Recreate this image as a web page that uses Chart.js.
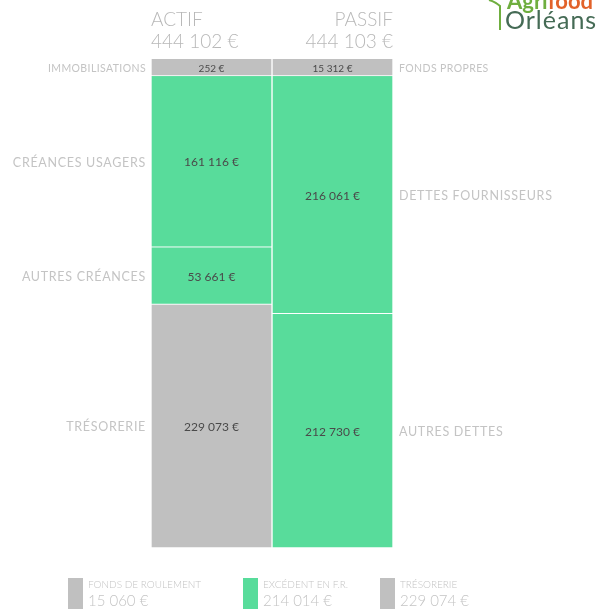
<!DOCTYPE html>
<html>
<head>
<meta charset="utf-8">
<script src="https://cdn.jsdelivr.net/npm/chart.js@4"></script>
<style>
  html, body { margin: 0; padding: 0; background: #fff; }
  #wrap { width: 616px; height: 612px; position: relative; }
</style>
</head>
<body>
<div id="wrap"><canvas id="bilan"></canvas></div>
<script>
const actifLabels = ["IMMOBILISATIONS", "CRÉANCES USAGERS", "AUTRES CRÉANCES", "TRÉSORERIE"]
const actifValues = [252, 161116, 53661, 229073]
const actifColors = ["#c0c0c0", "#58dc9b", "#58dc9b", "#c0c0c0"]

const passifLabels = ["FONDS PROPRES", "DETTES FOURNISSEURS", "AUTRES DETTES"]
const passifValues = [15312, 216061, 212730]
const passifColors = ["#c0c0c0", "#58dc9b", "#58dc9b"]

const columns = ["ACTIF", "PASSIF"]
const columnTotals = ["444 102 €", "444 103 €"]

const legendLabels = ["FONDS DE ROULEMENT", "EXCÉDENT EN F.R.", "TRÉSORERIE"]
const legendValues = ["15 060 €", "214 014 €", "229 074 €"]
const legendColors = ["#c0c0c0", "#58dc9b", "#c0c0c0"]

const GREY_TEXT = "#c4c4c4"
const FONT = "Lato, 'Open Sans', sans-serif"

const fmt = (v) => v.toLocaleString("fr-FR").replace(/[\u202f\u00a0]/g, " ") + " €"

// each column is shown as 100 %, the first row keeps a minimum visible height
const shares = (values) => {
  var total = values.reduce((a, b) => a + b, 0)
  var minShare = 3.45
  var first = Math.max(values[0] / total * 100, minShare)
  var restTotal = total - values[0]
  return [first].concat(values.slice(1).map((v) => v / restTotal * (100 - first)))
}

const actifShares = shares(actifValues)
const passifShares = shares(passifValues)

var datasets = []
actifValues.forEach((v, i) => {
  datasets.push({
    label: actifLabels[i],
    data: [actifShares[i], null],
    raw: v,
    side: 0,
    backgroundColor: actifColors[i],
    borderColor: "#ffffff",
    borderWidth: 1,
  })
})
passifValues.forEach((v, i) => {
  datasets.push({
    label: passifLabels[i],
    data: [null, passifShares[i]],
    raw: v,
    side: 1,
    backgroundColor: passifColors[i],
    borderColor: "#ffffff",
    borderWidth: 1,
  })
})

const labelsPlugin = {
  id: "bilanLabels",
  afterDatasetsDraw: (chart) => {
    const {ctx, chartArea} = chart
    ctx.save()
    ctx.textBaseline = "middle"
    chart.data.datasets.forEach((ds, i) => {
      const meta = chart.getDatasetMeta(i)
      const bar = meta.data[ds.side]
      if (!bar) return
      const cy = (bar.y + bar.base) / 2
      const small = ds.label === "IMMOBILISATIONS" || ds.label === "FONDS PROPRES"
      // value inside the cell
      ctx.letterSpacing = "0px"
      ctx.fillStyle = "#4a4a4a"
      ctx.font = (small ? "10px " : "12px ") + FONT
      ctx.textAlign = "center"
      ctx.fillText(fmt(ds.raw), bar.x, cy + 1)
      // category name outside
      ctx.fillStyle = GREY_TEXT
      ctx.font = (small ? "10.5px " : "12.5px ") + FONT
      ctx.letterSpacing = small ? "0.4px" : "0.7px"
      if (ds.side === 0) {
        ctx.textAlign = "right"
        ctx.fillText(ds.label, chartArea.left - 5, cy + 1)
      } else {
        ctx.textAlign = "left"
        ctx.fillText(ds.label, chartArea.right + 6, cy + 1)
      }
    })
    ctx.restore()
  }
}

const decorPlugin = {
  id: "decor",
  afterDraw: (chart) => {
    const {ctx, chartArea} = chart
    ctx.save()
    // column headers
    ctx.fillStyle = "#b8b8b8"
    ctx.font = "300 19px " + FONT
    ctx.textBaseline = "middle"
    ctx.textAlign = "left"
    ctx.fillText(columns[0], chartArea.left, 20)
    ctx.fillText(columnTotals[0], chartArea.left, 42)
    ctx.textAlign = "right"
    ctx.fillText(columns[1], chartArea.right, 20)
    ctx.fillText(columnTotals[1], chartArea.right, 42)

    // legend
    const lx = [68, 243, 380]
    legendLabels.forEach((t, i) => {
      ctx.fillStyle = legendColors[i]
      ctx.fillRect(lx[i], 578, 15, 31)
      ctx.fillStyle = GREY_TEXT
      ctx.textAlign = "left"
      ctx.font = "300 10px " + FONT
      ctx.fillText(t, lx[i] + 20, 585)
      ctx.font = "300 15px " + FONT
      ctx.fillText(legendValues[i], lx[i] + 20, 601)
    })

    // logo
    ctx.textAlign = "left"
    ctx.font = "bold 22px " + FONT
    ctx.fillStyle = "#6fae3f"
    ctx.fillText("Agri", 507, 2)
    const w = ctx.measureText("Agri").width
    ctx.fillStyle = "#e2622a"
    ctx.fillText("food", 507 + w, 2)
    ctx.fillStyle = "#456b55"
    ctx.font = "25px " + FONT
    ctx.letterSpacing = "1px"
    ctx.fillText("Orléans", 505, 21)
    ctx.letterSpacing = "0px"
    ctx.strokeStyle = "#6fae3f"
    ctx.lineWidth = 2
    ctx.beginPath()
    ctx.moveTo(500, 30)
    ctx.lineTo(500, 6)
    ctx.quadraticCurveTo(496, 2, 489, 0)
    ctx.stroke()
    ctx.restore()
  }
}

new Chart(document.getElementById("bilan"), {
  type: "bar",
  data: {
    labels: columns,
    datasets: datasets,
  },
  options: {
    responsive: true,
    maintainAspectRatio: false,
    animation: false,
    layout: {
      padding: {left: 151, right: 223, top: 59, bottom: 64}
    },
    datasets: {
      bar: {barPercentage: 1, categoryPercentage: 1}
    },
    scales: {
      x: {stacked: true, display: false},
      y: {stacked: true, display: false, reverse: true, min: 0, max: 100}
    },
    plugins: {
      legend: {display: false},
      tooltip: {enabled: false}
    }
  },
  plugins: [labelsPlugin, decorPlugin],
})
</script>
</body>
</html>
